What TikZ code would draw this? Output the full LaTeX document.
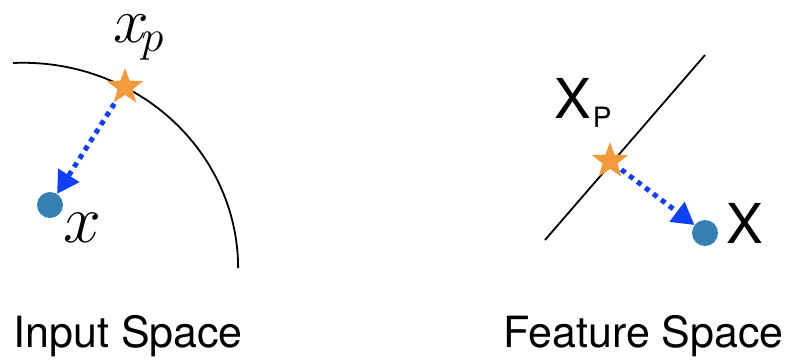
\RequirePackage{fix-cm}
\documentclass[tikz,border=0pt]{standalone}
\usepackage{fontspec}
\setsansfont{TeX Gyre Heros}
\usepackage{tikz}
\usetikzlibrary{arrows.meta,shapes.geometric}
\definecolor{staror}{HTML}{F29A3C}
\definecolor{dotblue}{HTML}{3480B3}
\definecolor{arrblue}{HTML}{1040FF}

\begin{document}
\begin{tikzpicture}[x=1pt,y=-1pt,font=\sffamily]
  \tikzstyle{pt}=[circle,fill=dotblue,minimum size=26pt,inner sep=0pt]
  \tikzstyle{proj}=[star,star points=5,star point ratio=2.4,fill=staror,minimum size=38pt,inner sep=0pt]
  \tikzstyle{flow}=[arrblue,line width=5pt,dash pattern=on 5pt off 5pt,
        -{Triangle[length=22pt,width=24pt]}]
  \tikzstyle{caption}=[anchor=base west,inner sep=0pt,font=\sffamily\fontsize{43}{43}\selectfont]
  \useasboundingbox (0,0) rectangle (786,362);
  % input space
  \draw[line width=1.8pt] (13,63) arc[start angle=-92.7,end angle=0,x radius=215,y radius=205.4];
  \node[proj] (sL) at (125,87) {};
  \node[pt] (dL) at (50,205) {};
  \node[inner sep=0pt] (lL) at (82,228) {\fontsize{68}{68}\selectfont$x$};
  \node[anchor=base west,inner sep=0pt] (lpL) at (113,42) {\fontsize{64}{64}\selectfont$x_{\!p}$};
  \draw[flow,shorten <=3pt] (sL) -- (dL);
  % feature space
  \draw[line width=1.8pt] (545,240) coordinate (fa) -- (705,55) coordinate (fb);
  \node[proj] (sR) at (610,161) {};
  \node[pt] (dR) at (705,233) {};
  \node[anchor=base west,inner sep=0pt] (lR) at (726,243)
        {\fontsize{55}{55}\selectfont X};
  \node[anchor=base west,inner sep=0pt] (lpR) at (554,118)
        {\fontsize{55}{55}\selectfont X\kern2pt\raisebox{-9pt}{\fontsize{28}{28}\selectfont P}};
  \draw[flow,shorten <=3pt] (sR) -- (dR);
  % captions
  \node[caption] (cIn) at (13,347) {Input Space};
  \node[caption] (cFe) at (503,347) {Feature Space};
\end{tikzpicture}
\end{document}
